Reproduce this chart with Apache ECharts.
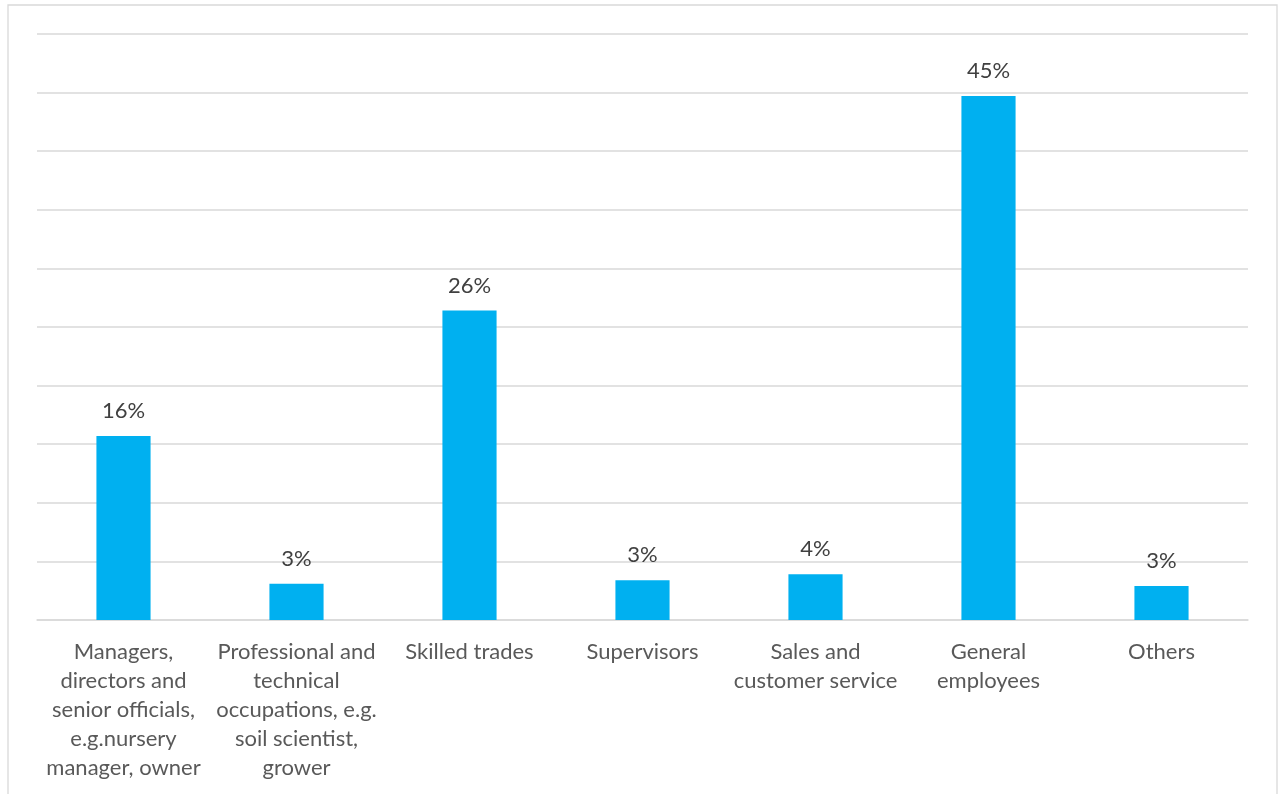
<!DOCTYPE html>
<html>
<head>
<meta charset="utf-8">
<script src="https://cdn.jsdelivr.net/npm/echarts@6/dist/echarts.min.js"></script>
<style>
html,body{margin:0;padding:0;background:#fff;}
#chart{width:1280px;height:794px;}
</style>
</head>
<body>
<div id="chart"></div>
<script>
const categories = [
  "Managers,\ndirectors and\nsenior officials,\ne.g.nursery\nmanager, owner",
  "Professional and\ntechnical\noccupations, e.g.\nsoil scientist,\ngrower",
  "Skilled trades",
  "Supervisors",
  "Sales and\ncustomer service",
  "General\nemployees",
  "Others"
];
const shares = [15.7, 3.1, 26.4, 3.4, 3.9, 44.7, 2.9];
const axisMin = 0;
const axisMax = 50;
const axisStep = 5;

const chart = echarts.init(document.getElementById('chart'), null, {renderer: 'canvas'});
const FONT = 'Lato';
chart.setOption({
  animation: false,
  backgroundColor: '#ffffff',
  graphic: [{
    type: 'rect',
    shape: {x: 8, y: 5, width: 1269, height: 800},
    style: {fill: 'none', stroke: '#d9d9d9', lineWidth: 1.3},
    silent: true
  }],
  grid: {left: 37, right: 32, top: 34, bottom: 174, containLabel: false},
  xAxis: {
    type: 'category',
    data: categories,
    axisLine: {show: true, lineStyle: {color: '#d9d9d9', width: 1.5}},
    axisTick: {show: false},
    axisLabel: {
      interval: 0,
      color: '#595959',
      fontFamily: FONT,
      fontSize: 22,
      lineHeight: 29,
      margin: 17
    }
  },
  yAxis: {
    type: 'value',
    min: axisMin,
    max: axisMax,
    interval: axisStep,
    axisLabel: {show: false},
    axisLine: {show: false},
    axisTick: {show: false},
    splitLine: {lineStyle: {color: '#d9d9d9', width: 1.5}}
  },
  series: [{
    type: 'bar',
    data: shares,
    barWidth: '31.3%',
    itemStyle: {color: '#00B0F0'},
    label: {
      show: true,
      position: 'top',
      distance: 14,
      color: '#404040',
      fontFamily: FONT,
      fontSize: 22,
      formatter: p => Math.round(p.value) + '%'
    }
  }]
});
</script>
</body>
</html>
